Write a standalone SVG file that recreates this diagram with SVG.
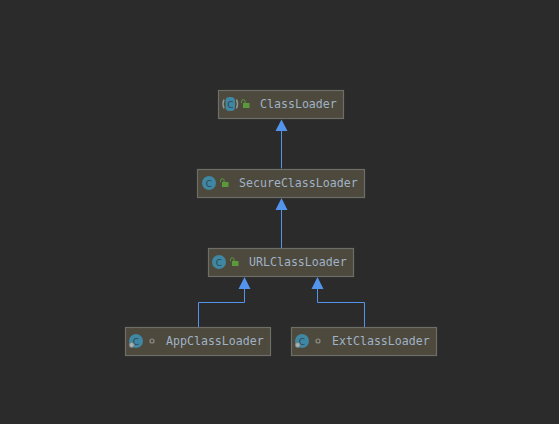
<svg xmlns="http://www.w3.org/2000/svg" width="559" height="424" viewBox="0 0 559 424">
<style>
.box{fill:#4e493d;stroke:#6e6e68;stroke-width:1.2}
.t{font-family:"DejaVu Sans Mono","Liberation Mono",monospace;font-size:11.6px;fill:#9fb2c6}
.ic{fill:#3f87a2}
.cl{font-family:"DejaVu Sans",sans-serif;font-size:9px;fill:#2f4650;text-anchor:middle}
.lk{fill:#5b9a3c}
.sh{fill:none;stroke:#5b9a3c;stroke-width:1}
.e{fill:none;stroke:#5394ec;stroke-width:1}
.dot{fill:none;stroke:#8b8b85;stroke-width:1.2}
.gear{fill:#a5b1b5;stroke:#6f7a7d;stroke-width:.8}
</style>
<defs>
<g id="lock"><rect class="lk" x="0" y="0" width="6.500" height="5"/><path class="sh" d="M-1.500 0v-1.500a1.800 1.800 0 0 1 3.600 0V0"/></g>
</defs>
<rect width="559" height="424" fill="#2b2b2b"/>
<g id="connectors">
<path class="e" d="M281.500 168.500V131"/>
<path class="e" d="M281.500 248.500V210"/>
<path class="e" d="M198.500 327.500V302.500H244.500V289"/>
<path class="e" d="M364.500 327.500V302.500H317.500V289"/>
<path d="M281.500 119.500l6 11.500h-12zM281.500 198l6 12h-12zM244.500 277l6 12h-12zM317.500 277l6 12h-12z" fill="#5394ec"/>
</g>
<g id="ClassLoader">
<rect class="box" x="218.500" y="90.500" width="125" height="28"/>
<path d="M224 99.500q-2 4.500 0 9M236.500 99.500q2 4.500 0 9" fill="none" stroke="#8f9794" stroke-width="1.500"/>
<rect class="ic" x="225.500" y="97" width="9.500" height="14" rx="4"/>
<text class="cl" x="230.300" y="107.500">C</text>
<use href="#lock" x="243" y="103"/>
<text class="t" x="260" y="108">ClassLoader</text>
</g>
<g id="SecureClassLoader">
<rect class="box" x="197.500" y="169.500" width="167" height="28"/>
<circle class="ic" cx="209" cy="183" r="7"/>
<text class="cl" x="209" y="186.500">C</text>
<use href="#lock" x="222" y="182"/>
<text class="t" x="239" y="187">SecureClassLoader</text>
</g>
<g id="URLClassLoader">
<rect class="box" x="208.500" y="248.500" width="145" height="28"/>
<circle class="ic" cx="219" cy="262" r="7"/>
<text class="cl" x="219" y="265.500">C</text>
<use href="#lock" x="232" y="261"/>
<text class="t" x="249" y="266">URLClassLoader</text>
</g>
<g id="AppClassLoader">
<rect class="box" x="125.500" y="327.500" width="145" height="28"/>
<circle class="ic" cx="136" cy="341" r="7"/>
<text class="cl" x="136" y="344.500">C</text>
<circle class="gear" cx="131.700" cy="345" r="2.500"/>
<circle class="dot" cx="152" cy="341" r="2"/>
<text class="t" x="166" y="345">AppClassLoader</text>
</g>
<g id="ExtClassLoader">
<rect class="box" x="291.500" y="327.500" width="145" height="28"/>
<circle class="ic" cx="302" cy="341" r="7"/>
<text class="cl" x="302" y="344.500">C</text>
<circle class="gear" cx="297.700" cy="345" r="2.500"/>
<circle class="dot" cx="318" cy="341" r="2"/>
<text class="t" x="332" y="345">ExtClassLoader</text>
</g>
</svg>
